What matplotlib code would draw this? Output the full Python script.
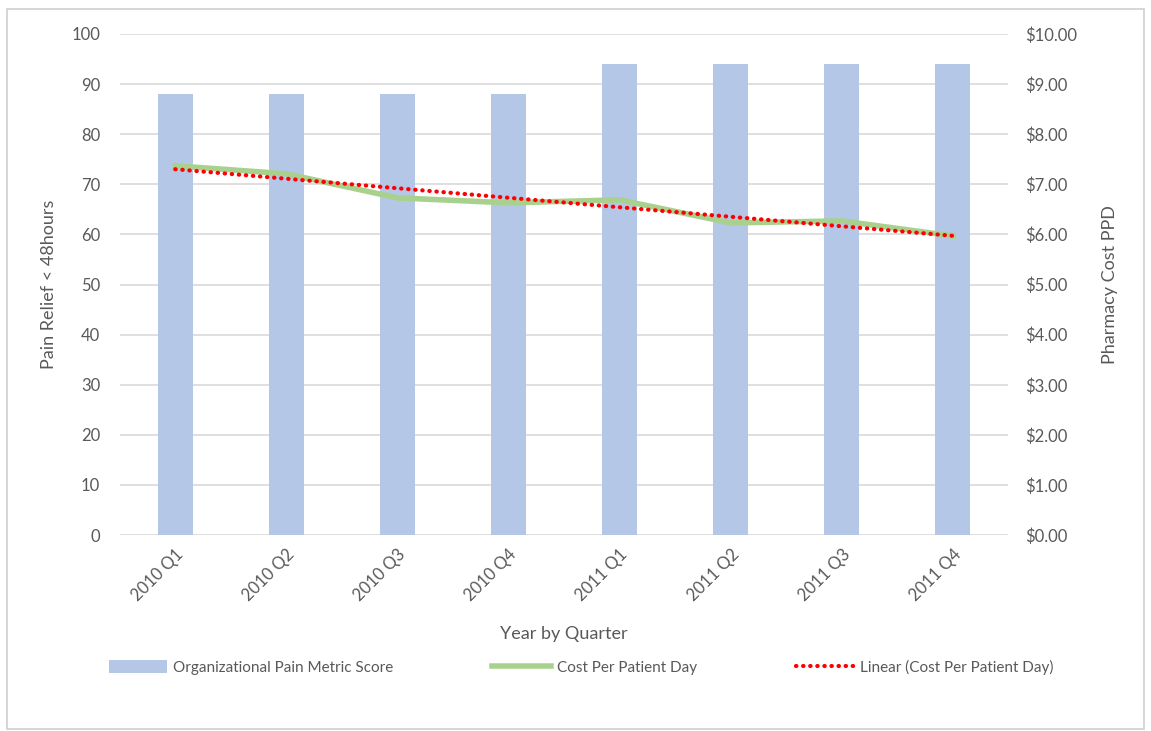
import numpy as np
import matplotlib
matplotlib.use("Agg")
import matplotlib.pyplot as plt
from matplotlib.patches import Rectangle
from matplotlib.ticker import FuncFormatter

plt.rcParams['font.family'] = ['Lato', 'DejaVu Sans']

quarters = ['2010 Q1', '2010 Q2', '2010 Q3', '2010 Q4',
            '2011 Q1', '2011 Q2', '2011 Q3', '2011 Q4']
pain_score = [88, 88, 88, 88, 94, 94, 94, 94]
cost_ppd = [7.37, 7.21, 6.73, 6.63, 6.69, 6.23, 6.27, 5.97]

txt = '#595959'
bar_col = '#b4c7e7'
line_col = '#a9d18e'

fig = plt.figure(figsize=(11.51, 7.31), dpi=100)
ax = fig.add_axes([0.104, 0.268, 0.772, 0.6855])
ax2 = ax.twinx()

x = np.arange(len(quarters))
ax.bar(x, pain_score, width=0.315, color=bar_col, zorder=2,
       label='Organizational Pain Metric Score')

# Excel linear trendline of the cost series
k, b = np.polyfit(x, cost_ppd, 1)
ax2.plot(x, cost_ppd, color=line_col, lw=4, zorder=3, label='Cost Per Patient Day')
ax2.plot(x, k * x + b, color='#ff0000', lw=3, ls=(0, (0.1, 1.6)),
         dash_capstyle='round', zorder=4, label='Linear (Cost Per Patient Day)')

ax.set_xlim(-0.5, 7.5)
ax.set_ylim(0, 100)
ax.set_yticks(range(0, 101, 10))
ax2.set_ylim(0, 10)
ax2.set_yticks(range(0, 11))
ax2.yaxis.set_major_formatter(FuncFormatter(lambda v, p: '${:.2f}'.format(v)))

ax.set_xticks(x)
ax.set_xticklabels(quarters, rotation=45, ha='right', rotation_mode='anchor')
ax.grid(axis='y', color='#d9d9d9', lw=1.2, zorder=0)
ax.set_axisbelow(True)

for a in (ax, ax2):
    for s in a.spines.values():
        s.set_visible(False)
    a.tick_params(length=0, colors=txt, labelsize=12)
ax.tick_params(axis='y', pad=14)
ax2.tick_params(axis='y', pad=12)
ax.tick_params(axis='x', pad=8)

ax.set_ylabel('Pain Relief < 48hours', color=txt, fontsize=13, labelpad=10)
ax2.set_ylabel('Pharmacy Cost PPD', color=txt, fontsize=13, labelpad=18)
ax.set_xlabel('Year by Quarter', color=txt, fontsize=13, labelpad=16)

h1, l1 = ax.get_legend_handles_labels()
h2, l2 = ax2.get_legend_handles_labels()
leg = fig.legend(h1 + h2, l1 + l2, loc='center', bbox_to_anchor=(0.505, 0.087),
                 ncol=3, frameon=False, fontsize=11, handlelength=3.8,
                 handleheight=0.9, columnspacing=6.5, handletextpad=0.4)
for t in leg.get_texts():
    t.set_color(txt)

fig.patches.append(Rectangle((0.006, 0.003), 0.988, 0.985, transform=fig.transFigure,
                             fill=False, edgecolor='#d0d0d0', lw=1.2))

fig.savefig('out.png', dpi=100)
